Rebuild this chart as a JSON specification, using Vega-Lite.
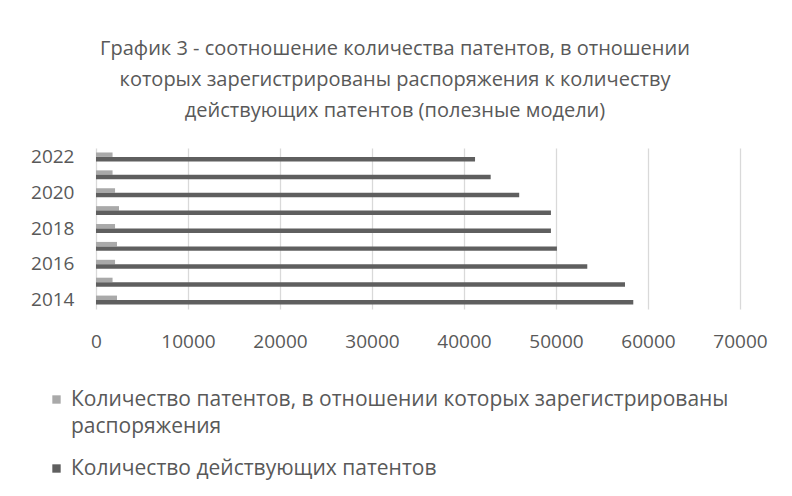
{
  "$schema": "https://vega.github.io/schema/vega-lite/v6.json",
  "width": 644,
  "height": 161,
  "autosize": {"type": "none"},
  "padding": {"left": 96, "top": 148, "right": 52, "bottom": 187},
  "background": "white",
  "config": {
    "font": "Open Sans",
    "view": {"stroke": null}
  },
  "title": {
    "text": ["График 3 - соотношение количества патентов, в отношении", "которых зарегистрированы распоряжения к количеству", "действующих патентов (полезные модели)"],
    "fontSize": 20,
    "fontWeight": "normal",
    "color": "#595959",
    "lineHeight": 31,
    "anchor": "middle",
    "frame": "group",
    "dx": -23,
    "offset": 26
  },
  "data": {
    "values": [
      {"year": "2014", "series": "Количество патентов, в отношении которых зарегистрированы распоряжения", "value": 2280},
      {"year": "2015", "series": "Количество патентов, в отношении которых зарегистрированы распоряжения", "value": 1800},
      {"year": "2016", "series": "Количество патентов, в отношении которых зарегистрированы распоряжения", "value": 2070},
      {"year": "2017", "series": "Количество патентов, в отношении которых зарегистрированы распоряжения", "value": 2280},
      {"year": "2018", "series": "Количество патентов, в отношении которых зарегистрированы распоряжения", "value": 2070},
      {"year": "2019", "series": "Количество патентов, в отношении которых зарегистрированы распоряжения", "value": 2500},
      {"year": "2020", "series": "Количество патентов, в отношении которых зарегистрированы распоряжения", "value": 2070},
      {"year": "2021", "series": "Количество патентов, в отношении которых зарегистрированы распоряжения", "value": 1800},
      {"year": "2022", "series": "Количество патентов, в отношении которых зарегистрированы распоряжения", "value": 1800},
      {"year": "2014", "series": "Количество действующих патентов", "value": 58400},
      {"year": "2015", "series": "Количество действующих патентов", "value": 57500},
      {"year": "2016", "series": "Количество действующих патентов", "value": 53400},
      {"year": "2017", "series": "Количество действующих патентов", "value": 50100},
      {"year": "2018", "series": "Количество действующих патентов", "value": 49450},
      {"year": "2019", "series": "Количество действующих патентов", "value": 49450},
      {"year": "2020", "series": "Количество действующих патентов", "value": 46000},
      {"year": "2021", "series": "Количество действующих патентов", "value": 42900},
      {"year": "2022", "series": "Количество действующих патентов", "value": 41200}
    ]
  },
  "mark": {"type": "bar"},
  "encoding": {
    "y": {
      "field": "year",
      "type": "nominal",
      "sort": "descending",
      "scale": {"paddingInner": 0, "paddingOuter": 0},
      "axis": {
        "title": null,
        "values": ["2014", "2016", "2018", "2020", "2022"],
        "domain": false,
        "ticks": false,
        "labelFontSize": 19,
        "labelColor": "#595959",
        "labelPadding": 22
      }
    },
    "yOffset": {
      "field": "series",
      "type": "nominal",
      "sort": ["Количество патентов, в отношении которых зарегистрированы распоряжения", "Количество действующих патентов"],
      "scale": {"paddingInner": 0, "paddingOuter": 1.24}
    },
    "x": {
      "field": "value",
      "type": "quantitative",
      "scale": {"domain": [0, 70000], "nice": false},
      "axis": {
        "title": null,
        "values": [0, 10000, 20000, 30000, 40000, 50000, 60000, 70000],
        "format": "d",
        "domain": false,
        "ticks": false,
        "grid": true,
        "gridColor": "#D9D9D9",
        "gridWidth": 1.3,
        "labelFontSize": 19,
        "labelColor": "#595959",
        "labelPadding": 23,
        "labelFlush": false,
        "labelOverlap": false
      }
    },
    "color": {
      "field": "series",
      "type": "nominal",
      "sort": ["Количество патентов, в отношении которых зарегистрированы распоряжения", "Количество действующих патентов"],
      "scale": {"range": ["#A9A9A9", "#5F5F5F"]},
      "legend": {
        "title": null,
        "orient": "none",
        "legendX": -50,
        "legendY": 241,
        "direction": "vertical",
        "symbolType": "square",
        "symbolSize": 70,
        "symbolStrokeWidth": 0,
        "labelFontSize": 21,
        "labelColor": "#595959",
        "labelLimit": 800,
        "labelOffset": 4,
        "rowPadding": 20,
        "labelExpr": "datum.label == 'Количество действующих патентов' ? datum.label : ['Количество патентов, в отношении которых зарегистрированы', 'распоряжения']",
        "encode": {"labels": {"update": {"lineHeight": {"value": 27}}}}
      }
    }
  }
}
